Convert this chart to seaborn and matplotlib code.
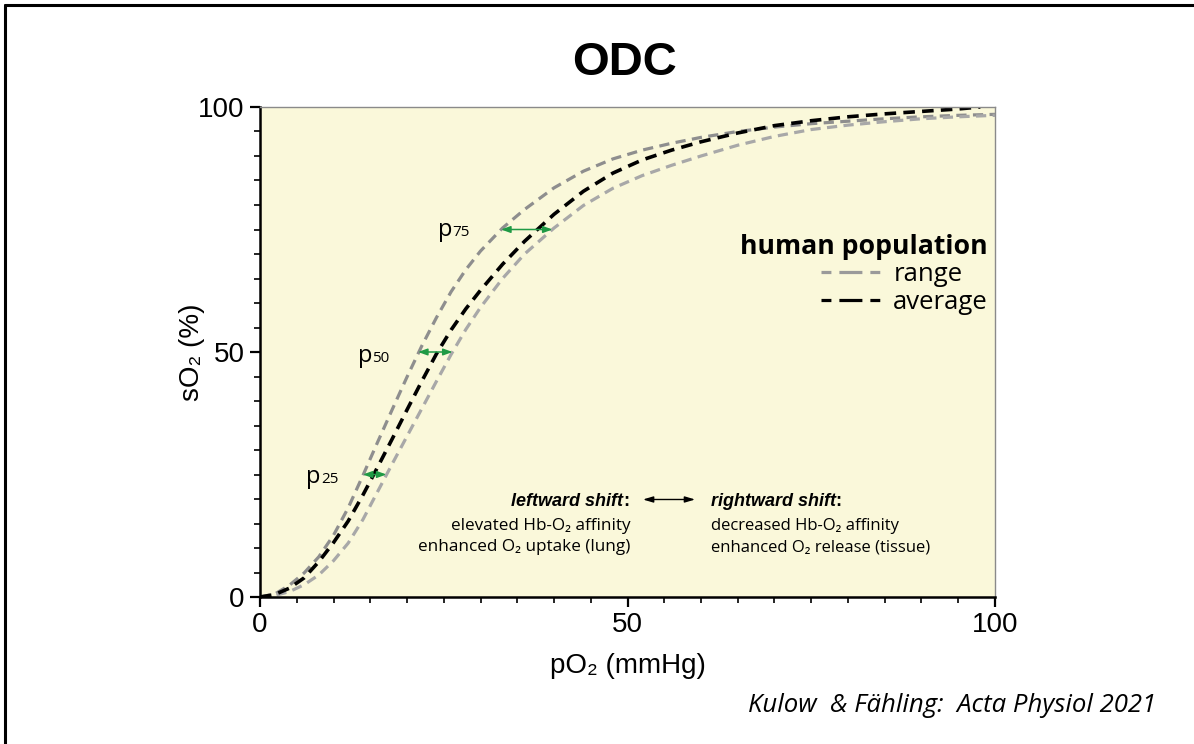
import numpy as np
import pandas as pd
import matplotlib
matplotlib.use("Agg")
import matplotlib.pyplot as plt
from matplotlib.lines import Line2D
from matplotlib.ticker import MultipleLocator
import seaborn as sns

# ---------------- data ----------------
po2_grid = [0, 2, 4, 6, 8, 10, 12, 14, 16, 18, 20, 22, 24, 26, 28, 30, 33, 36,
            40, 44, 48, 52, 56, 60, 65, 70, 75, 80, 85, 90, 95, 100]

so2_left = [0, 0.6, 2.4, 4.9, 8.2, 12.6, 18.2, 24.8, 31.6, 38.3, 44.9, 51.2,
            57.0, 62.3, 66.8, 70.6, 75.3, 79.1, 83.5, 86.9, 89.4, 91.2, 92.6,
            93.8, 95.0, 95.9, 96.6, 97.1, 97.6, 98.0, 98.3, 98.5]

so2_right = [0, 0.3, 1.1, 2.5, 4.5, 7.4, 11.0, 15.8, 21.5, 27.2, 32.8, 38.4,
             44.0, 49.5, 54.6, 59.1, 65.0, 70.0, 75.3, 79.9, 83.4, 86.0, 88.1,
             90.0, 92.2, 94.0, 95.4, 96.3, 97.0, 97.6, 98.0, 98.3]

po2_avg = [0, 2, 4, 6, 8, 10, 12, 14, 16, 18, 20, 22, 24, 26, 28, 30, 33, 36,
           40, 44, 48, 52, 56, 60, 65, 70, 75, 80, 85, 90, 95, 98]
so2_avg = [0, 0.5, 1.8, 3.9, 7.2, 11.1, 15.5, 20.8, 26.5, 32.3, 38.2, 44.0,
           49.6, 54.5, 58.8, 62.6, 67.9, 72.6, 78.1, 82.8, 86.5, 89.2, 91.2,
           92.9, 94.7, 96.2, 97.2, 98.0, 98.6, 99.1, 99.6, 100.0]

# p25 / p50 / p75 markers (saturation level, left and right range limits)
p_levels = [25, 50, 75]
p_labels = ["25", "50", "75"]
p_left = [14.0, 21.5, 32.8]
p_right = [17.2, 26.2, 39.8]
p_label_pos_x = [6.3, 13.3, 24.2]
p_label_pos_y = [23.3, 48.0, 73.6]

x_ticks = [0, 50, 100]
y_ticks = [0, 50, 100]

legend_labels = ["range", "average"]

# ---------------- style ----------------
sns.set_style("ticks")
plt.rcParams["font.family"] = ["Liberation Sans", "DejaVu Sans"]
for k in ("text.color", "axes.labelcolor", "xtick.color", "ytick.color"):
    plt.rcParams[k] = "black"
HUM = ["Open Sans", "DejaVu Sans"]

fig = plt.figure(figsize=(11.94, 7.44), dpi=100)
ax = fig.add_axes([260 / 1194, 1 - 597 / 744, 735 / 1194, 490 / 744])
ax.set_facecolor("#FAF8DA")
ax.set_xlim(0, 100)
ax.set_ylim(0, 100)

df = pd.concat([
    pd.DataFrame({"pO2": po2_grid, "sO2": so2_left, "curve": "left"}),
    pd.DataFrame({"pO2": po2_grid, "sO2": so2_right, "curve": "right"}),
    pd.DataFrame({"pO2": po2_avg, "sO2": so2_avg, "curve": "avg"}),
])

lw = 2.3
sns.lineplot(data=df[df.curve == "left"], x="pO2", y="sO2", ax=ax,
             color="#8E8E8E", lw=lw, legend=False, sort=False)
sns.lineplot(data=df[df.curve == "right"], x="pO2", y="sO2", ax=ax,
             color="#A8A8A8", lw=lw, legend=False, sort=False)
sns.lineplot(data=df[df.curve == "avg"], x="pO2", y="sO2", ax=ax,
             color="black", lw=lw + 0.3, legend=False, sort=False)
for ln in ax.get_lines():
    ln.set_linestyle((0, (3.2, 2.0)))
    ln.set_dash_capstyle("butt")

# green double arrows
for lev, a, b in zip(p_levels, p_left, p_right):
    ax.annotate("", xy=(b, lev), xytext=(a, lev),
                arrowprops=dict(arrowstyle="<|-|>,head_length=0.55,head_width=0.2",
                                color="#1F9A45", lw=1.1, shrinkA=0, shrinkB=0))

# p labels
for lx, ly, lab in zip(p_label_pos_x, p_label_pos_y, p_labels):
    ax.text(lx, ly, "p", fontsize=17, family=HUM, ha="left", va="baseline")
    ax.annotate(lab, xy=(lx, ly), xycoords="data", xytext=(14.5, 0),
                textcoords="offset pixels", fontsize=11, family=HUM,
                ha="left", va="baseline")

# shift annotations
y1, y2, y3 = 18.6, 13.7, 9.3
tl = ax.text(49.4, y1, "leftward shift", fontsize=13, fontweight="bold",
             fontstyle="italic", ha="right", va="baseline")
ax.annotate(":", xy=(1, y1), xycoords=(tl, "data"), fontsize=13,
            fontweight="bold", ha="left", va="baseline")
ax.text(50.4, y2, "elevated Hb-O\u2082 affinity", fontsize=12.3, family=HUM,
        ha="right", va="baseline")
ax.text(50.4, y3, "enhanced O\u2082 uptake (lung)", fontsize=12.3, family=HUM,
        ha="right", va="baseline")
tr = ax.text(61.3, y1, "rightward shift", fontsize=13, fontweight="bold",
             fontstyle="italic", ha="left", va="baseline")
ax.annotate(":", xy=(1, y1), xycoords=(tr, "data"), fontsize=13,
            fontweight="bold", ha="left", va="baseline")
ax.text(61.3, y2, "decreased Hb-O\u2082 affinity", fontsize=12, family=HUM,
        ha="left", va="baseline")
ax.text(61.3, y3, "enhanced O\u2082 release (tissue)", fontsize=12, family=HUM,
        ha="left", va="baseline")
ax.annotate("", xy=(59.2, 19.9), xytext=(52.1, 19.9),
            arrowprops=dict(arrowstyle="<|-|>,head_length=0.6,head_width=0.18",
                            color="black", lw=1.0, shrinkA=0, shrinkB=0))

# legend
leg_ls = (0, (3.1, 2.5, 7.2, 2.5, 3.1, 6.0))
handles = [Line2D([], [], color="#9A9A9A", lw=2.3, linestyle=leg_ls),
           Line2D([], [], color="black", lw=2.3, linestyle=leg_ls)]
for h in handles:
    h.set_dash_capstyle("butt")
leg = ax.legend(handles, legend_labels, title="human population",
                loc="upper right", bbox_to_anchor=(1.015, 0.778), frameon=False,
                alignment="right", prop={"family": HUM, "size": 18.5},
                title_fontproperties={"family": HUM, "weight": "bold", "size": 19.2},
                handlelength=2.3, handletextpad=0.5, labelspacing=0.1,
                borderpad=0.2)

# axes
ax.set_xticks(x_ticks)
ax.set_yticks(y_ticks)
ax.xaxis.set_minor_locator(MultipleLocator(5))
ax.yaxis.set_minor_locator(MultipleLocator(5))
ax.tick_params(which="major", direction="out", length=7, width=1.6,
               labelsize=20, pad=4, color="black", labelcolor="black")
ax.tick_params(which="minor", direction="out", length=4, width=1.2, color="black")
for s in ("left", "bottom"):
    ax.spines[s].set_color("black")
    ax.spines[s].set_linewidth(1.8)
for s in ("top", "right"):
    ax.spines[s].set_color("#8A8A8A")
    ax.spines[s].set_linewidth(1.0)
ax.set_xlabel("pO\u2082 (mmHg)", fontsize=20)
ax.set_ylabel("sO\u2082 (%)", fontsize=20)
ax.xaxis.set_label_coords(0.5, -0.115)
ax.yaxis.set_label_coords(-0.075, 0.5)

# title and citation
fig.text(625 / 1194, 1 - 75 / 744, "ODC", fontsize=34, fontweight="bold",
         ha="center", va="baseline")
fig.text(1156 / 1194, 1 - 712 / 744, "Kulow  & F\u00e4hling:  Acta Physiol 2021",
         fontsize=18.5, family=HUM, fontstyle="italic", ha="right", va="baseline")

# border (top and left, as in the cropped reference)
fig.add_artist(Line2D([5 / 1194, 5 / 1194], [0, 1 - 5 / 744], color="black",
                      lw=2.2, transform=fig.transFigure))
fig.add_artist(Line2D([5 / 1194, 1], [1 - 5 / 744, 1 - 5 / 744], color="black",
                      lw=2.2, transform=fig.transFigure))

fig.savefig("out.png", dpi=100)
